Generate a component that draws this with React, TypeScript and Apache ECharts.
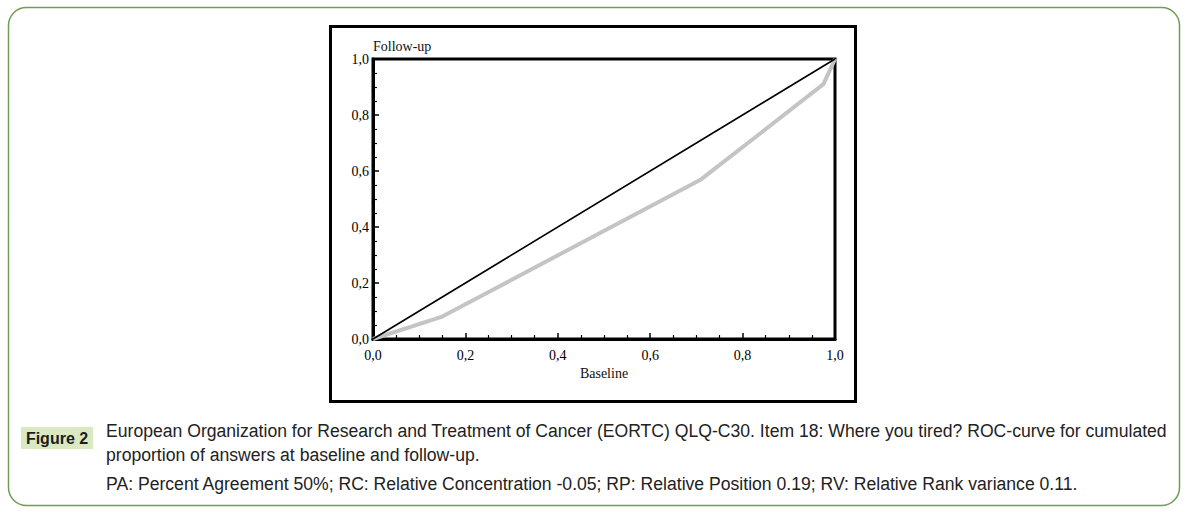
import React, { useEffect, useRef } from "react";
import * as echarts from "echarts";

const baseline = [0, 0.15, 0.71, 0.975, 1];
const followUp = [0, 0.08, 0.57, 0.91, 1];
const diagonalX = [0, 1];
const diagonalY = [0, 1];
const tickLabels = ["0,0", "0,2", "0,4", "0,6", "0,8", "1,0"];
const xName = "Baseline";
const yName = "Follow-up";
const figureLabel = "Figure 2";
const captionLines = [
  "European Organization for Research and Treatment of Cancer (EORTC) QLQ-C30. Item 18: Where you tired? ROC-curve for cumulated",
  "proportion of answers at baseline and follow-up.",
  "PA: Percent Agreement 50%; RC: Relative Concentration -0.05; RP: Relative Position 0.19; RV: Relative Rank variance 0.11.",
];

const fmt = (v: number) => tickLabels[Math.round(v / 0.2)] ?? "";

export default function App() {
  const ref = useRef<HTMLDivElement>(null);
  useEffect(() => {
    if (!ref.current) return;
    const chart = echarts.init(ref.current, null, { renderer: "svg" });
    const axisCommon = {
      type: "value" as const,
      min: 0,
      max: 1,
      interval: 0.2,
      axisLine: { show: true, lineStyle: { color: "#000", width: 3 } },
      axisTick: { show: true, inside: true, length: 6, lineStyle: { color: "#000", width: 1.5 } },
      minorTick: { show: true, splitNumber: 4, length: 4, lineStyle: { color: "#000", width: 1.2 } },
      splitLine: { show: false },
      nameTextStyle: { fontFamily: "Liberation Serif", fontSize: 14, color: "#111" },
    };
    const capFont = "Liberation Sans";
    chart.setOption({
      animation: false,
      backgroundColor: "#fff",
      grid: {
        left: 373,
        top: 59,
        width: 462,
        height: 280,
        show: true,
        borderColor: "#000",
        borderWidth: 3,
        backgroundColor: "transparent",
      },
      xAxis: {
        ...axisCommon,
        name: xName,
        nameLocation: "middle",
        nameGap: 26,
        axisLabel: {
          formatter: fmt,
          fontFamily: "Liberation Serif",
          fontSize: 14,
          color: "#000",
          margin: 9,
        },
      },
      yAxis: {
        ...axisCommon,
        name: yName,
        nameLocation: "end",
        nameGap: 6,
        nameTextStyle: { ...axisCommon.nameTextStyle, align: "left" },
        axisLabel: {
          formatter: fmt,
          fontFamily: "Liberation Serif",
          fontSize: 14,
          color: "#000",
          margin: 4,
        },
      },
      series: [
        {
          type: "line",
          data: baseline.map((b, i) => [b, followUp[i]]),
          symbol: "none",
          lineStyle: { color: "#c4c4c4", width: 4 },
          z: 2,
        },
        {
          type: "line",
          data: diagonalX.map((x, i) => [x, diagonalY[i]]),
          symbol: "none",
          lineStyle: { color: "#000", width: 1.6 },
          z: 3,
        },
      ],
      graphic: [
        {
          type: "rect",
          shape: { x: 8.5, y: 7.5, width: 1171, height: 498, r: 18 },
          style: { fill: "none", stroke: "#6f9e52", lineWidth: 1.5 },
          silent: true,
          z: 0,
        },
        {
          type: "rect",
          shape: { x: 330.5, y: 26.5, width: 525, height: 375 },
          style: { fill: "none", stroke: "#000", lineWidth: 3 },
          silent: true,
        },
        {
          type: "rect",
          shape: { x: 21, y: 427, width: 72, height: 22 },
          style: { fill: "#dbe9c3" },
          silent: true,
        },
        {
          type: "text",
          x: 57,
          y: 438,
          style: {
            text: figureLabel,
            font: `bold 16px ${capFont}`,
            fill: "#1c1c1c",
            align: "center",
            verticalAlign: "middle",
          },
        },
        ...captionLines.map((t, i) => ({
          type: "text",
          x: 106,
          y: [431, 455, 484][i],
          style: {
            text: t,
            font: `17.6px ${capFont}`,
            fill: "#222",
            align: "left",
            verticalAlign: "middle",
          },
        })),
      ],
    });
    return () => chart.dispose();
  }, []);
  return (
    <div
      ref={ref}
      style={{ position: "fixed", left: 0, top: 0, width: 1187, height: 512 }}
    />
  );
}
